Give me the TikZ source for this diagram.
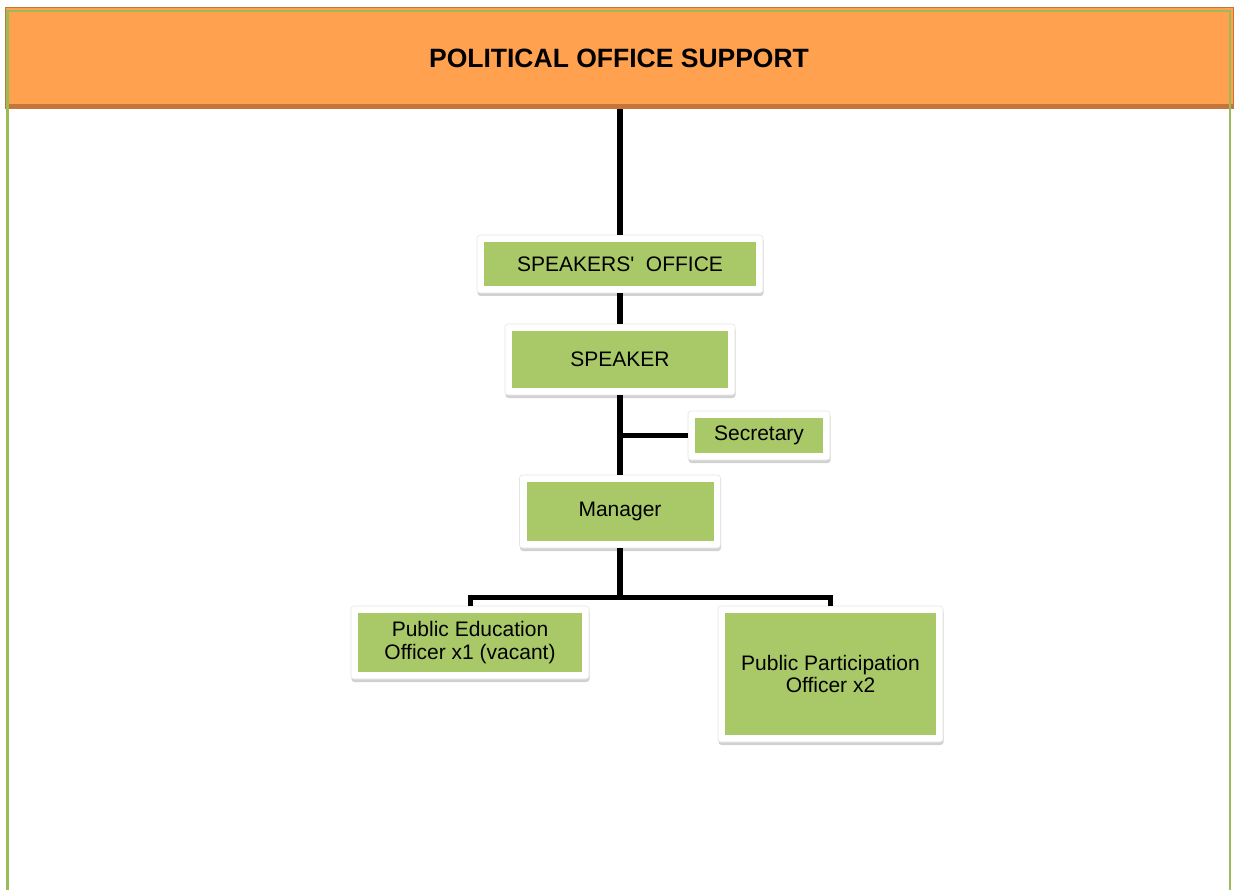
\documentclass[tikz,border=0pt]{standalone}
\usepackage{fontspec}
\setmainfont{Liberation Sans}
\usepackage{tikz}
\usetikzlibrary{calc}
\usetikzlibrary{shadows}
\definecolor{headorange}{HTML}{FFA14E}
\definecolor{headdark}{HTML}{C4763A}
\definecolor{framegreen}{HTML}{9BBB59}
\definecolor{boxgreen}{HTML}{A9C868}
\tikzstyle{headbar} = [fill=headorange, draw=headdark, line width=1pt,
minimum width=1228pt, minimum height=101pt, inner sep=0pt,
font=\bfseries\fontsize{26.5}{30}\selectfont,
path picture={\fill[headdark] (path picture bounding box.south west)
    rectangle ($(path picture bounding box.south east)+(0pt,5pt)$);}]
\tikzstyle{orgbox} = [fill=white, draw=black!10, line width=0.6pt,
rounded corners=3pt, inner sep=0pt, align=center,
font=\fontsize{21}{22.5}\selectfont,
drop shadow={shadow xshift=0.5pt, shadow yshift=-3pt, fill=black!45, opacity=0.4},
path picture={\fill[boxgreen, sharp corners]
    ($(path picture bounding box.south west)+(7pt,7pt)$) rectangle
    ($(path picture bounding box.north east)-(7pt,7pt)$);}]
\tikzstyle{trunk} = [draw=black, line width=6.5pt]
\tikzstyle{branch} = [draw=black, line width=5pt]

\begin{document}
\begin{tikzpicture}[x=1pt, y=-1pt]
        \useasboundingbox (0,0) rectangle (1238,890);
        \node [headbar] (header) at (619,58.5) {POLITICAL OFFICE SUPPORT};
        \draw [framegreen, line width=2.5pt] (7.5,890) -- (7.5,11) -- (1230,11) -- (1230,890);
        \node [orgbox, minimum width=286pt, minimum height=58pt] (office) at (620,264) {SPEAKERS\textquotesingle\ \ OFFICE};
        \node [orgbox, minimum width=230pt, minimum height=71pt] (speaker) at (620,359.5) {SPEAKER};
        \node [orgbox, minimum width=142pt, minimum height=49pt] (secretary) at (759,435.5) {Secretary};
        \node [orgbox, minimum width=201pt, minimum height=73pt] (manager) at (620,511.5) {Manager};
        \node [orgbox, minimum width=238pt, minimum height=73pt] (educ) at (470,642.5) {Public Education\\Officer x1 (vacant)};
        \node [orgbox, minimum width=225pt, minimum height=136pt] (partic) at (830.5,674) {Public Participation\\Officer x2};
        \coordinate (bus) at (620,597);
        \draw [trunk] (header.south -| office.north) -- (office.north);
        \draw [trunk] (office.south) -- (speaker.north);
        \draw [trunk] (speaker.south) -- (manager.north);
        \draw [branch] (speaker.south |- secretary.west) -- (secretary.west);
        \draw [trunk] (manager.south) -- (bus);
        \draw [branch] (educ.north) -- (educ.north |- bus) -- (partic.north |- bus) -- (partic.north);
    \end{tikzpicture}
\end{document}
